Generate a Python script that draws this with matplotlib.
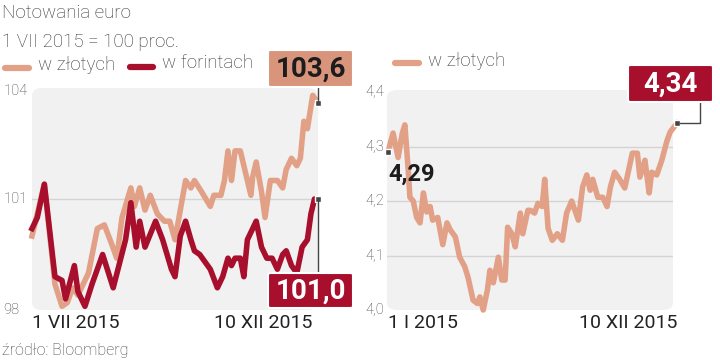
import matplotlib.pyplot as plt
from matplotlib.patches import FancyBboxPatch
from matplotlib.lines import Line2D

plt.rcParams['font.family'] = ['Roboto', 'DejaVu Sans']

# Left chart: days since 1 VII 2015, index (1 VII 2015 = 100)
pln_days = [0, 7, 13, 17, 20, 23, 26, 32, 37, 41, 45, 48, 51, 56, 58, 61, 64, 67, 71, 75,
            78, 81, 87, 90, 92, 96, 101, 103, 107, 109, 111, 113, 115, 118, 121, 124, 125,
            127, 130, 132, 135, 139, 142, 144, 147, 150, 152, 154, 156, 158, 159, 162]
pln_index = [100.0, 101.4, 98.7, 98.1, 98.2, 98.6, 98.4, 99.0, 100.2, 100.3, 99.8, 99.4,
             100.5, 101.3, 100.8, 101.3, 100.7, 101.1, 100.6, 100.4, 100.4, 99.9, 101.5,
             101.3, 101.5, 101.2, 100.8, 101.1, 101.1, 101.5, 102.3, 101.5, 102.3, 102.3,
             101.7, 101.1, 101.6, 102.0, 101.2, 100.5, 101.5, 101.5, 101.3, 101.8, 102.1,
             101.9, 102.1, 103.1, 102.9, 103.5, 103.8, 103.6]
huf_days = [0, 3, 7, 13, 17, 19, 24, 26, 30, 34, 40, 46, 53, 56, 59, 61, 64, 70, 74, 79,
            81, 84, 87, 90, 92, 95, 98, 101, 105, 108, 111, 113, 115, 118, 120, 122, 125,
            127, 130, 133, 136, 139, 142, 144, 147, 150, 153, 156, 158, 160, 162]
huf_index = [100.2, 100.5, 101.4, 98.9, 98.8, 98.3, 99.2, 98.5, 98.1, 98.7, 99.5, 98.6,
             99.9, 100.9, 99.7, 100.4, 99.7, 100.4, 99.9, 99.1, 98.9, 100.0, 100.4, 99.9,
             99.6, 99.5, 99.3, 99.1, 98.6, 98.9, 99.4, 99.2, 99.4, 99.4, 98.9, 99.9, 100.2,
             100.4, 99.7, 99.4, 99.4, 99.1, 99.5, 99.6, 99.2, 99.0, 99.7, 99.9, 100.6,
             101.0, 101.0]

# Right chart: days since 1 I 2015, EUR/PLN
rate_days = [0, 6, 12, 17, 20, 24, 26, 30, 34, 38, 42, 46, 50, 53, 59, 65, 70, 74, 80, 85,
             91, 95, 101, 106, 109, 113, 118, 121, 125, 131, 135, 139, 142, 147, 151, 157,
             160, 166, 169, 174, 178, 183, 186, 190, 195, 201, 207, 212, 218, 226, 231, 236,
             240, 243, 249, 255, 260, 264, 269, 275, 281, 290, 296, 299, 305, 310, 313, 319,
             325, 331, 335, 343]
rate_pln = [4.29, 4.325, 4.28, 4.325, 4.34, 4.257, 4.207, 4.20, 4.17, 4.16, 4.215, 4.18,
            4.19, 4.165, 4.17, 4.12, 4.16, 4.147, 4.134, 4.097, 4.08, 4.06, 4.018, 4.012,
            4.024, 4.00, 4.037, 4.073, 4.05, 4.097, 4.055, 4.055, 4.152, 4.14, 4.116, 4.178,
            4.14, 4.183, 4.183, 4.178, 4.196, 4.19, 4.24, 4.15, 4.128, 4.14, 4.128, 4.178,
            4.20, 4.165, 4.226, 4.248, 4.22, 4.24, 4.207, 4.207, 4.19, 4.226, 4.253, 4.24,
            4.224, 4.288, 4.288, 4.244, 4.275, 4.215, 4.253, 4.248, 4.275, 4.31, 4.327, 4.343]

left_ticks = [98, 101, 104]
right_ticks = [4.0, 4.1, 4.2, 4.3, 4.4]

LIGHT = '#e2a187'
DARK = '#a80f2c'
BOX_LIGHT = '#d9957c'
BG = '#f1f1f1'
GRID = '#d4d4d4'
LW = 4.0

W, H = 720, 360
fig = plt.figure(figsize=(7.2, 3.6), dpi=100)


def fx(x):
    return x / W


def fy(y):
    return 1 - y / H


def make_axes(x0, y0, x1, y1):
    ax = fig.add_axes([fx(x0), fy(y1), (x1 - x0) / W, (y1 - y0) / H])
    ax.set_facecolor('none')
    for s in ax.spines.values():
        s.set_visible(False)
    ax.set_xticks([])
    ax.set_yticks([])
    ax.add_patch(FancyBboxPatch((0, 0), 1, 1, boxstyle='round,pad=0,rounding_size=0.035',
                                transform=ax.transAxes, fc=BG, ec='none', zorder=0))
    return ax


def to_px(ax, x, y):
    dx, dy = ax.transData.transform((x, y))
    return dx, H - dy


def value_box(x0, y0, x1, y1, text, fc, tc):
    fig.patches.append(FancyBboxPatch((fx(x0), fy(y1)), (x1 - x0) / W, (y1 - y0) / H,
                                      boxstyle='round,pad=0,rounding_size=0.004',
                                      transform=fig.transFigure, fc=fc, ec='white',
                                      lw=1.5, zorder=10))
    fig.text(fx((x0 + x1) / 2), fy((y0 + y1) / 2 + 1), text, ha='center', va='center',
             fontsize=20, fontweight='bold', color=tc, zorder=11)


def connector(xs, ys):
    fig.lines.append(Line2D([fx(v) for v in xs], [fy(v) for v in ys],
                            transform=fig.transFigure, color='#444444', lw=1, zorder=9))


# ---------- left chart ----------
ax1 = make_axes(32, 88, 318, 310)
ax1.set_xlim(0, 162)
ax1.set_ylim(98, 104)
ax1.axhline(101, color=GRID, lw=1, zorder=1)
ax1.plot(pln_days, pln_index, color=LIGHT, lw=LW, zorder=3, clip_on=False,
         solid_joinstyle='round')
ax1.plot(huf_days, huf_index, color=DARK, lw=LW, zorder=4, clip_on=False,
         solid_joinstyle='round')
for v in (pln_index[-1], huf_index[-1]):
    ax1.plot(pln_days[-1], v, marker='s', ms=4, mfc='#444444', mec='white', mew=1,
             zorder=12, clip_on=False)

ytr = ax1.get_yaxis_transform()
for t in left_ticks:
    ax1.text(-0.101, t - 0.08 if t == 104 else t, str(t), transform=ytr, ha='left',
             va='center', fontsize=10.5, color='#444444', fontweight='light')
xtr = ax1.get_xaxis_transform()
ax1.text(0, -0.06, '1 VII 2015', transform=xtr, ha='left', va='center', fontsize=14,
         color='#222222')
ax1.text(159, -0.06, '10 XII 2015', transform=xtr, ha='right', va='center', fontsize=14,
         color='#222222')

px1, py1 = to_px(ax1, pln_days[-1], pln_index[-1])
value_box(268, 50, 353, 87, f'{pln_index[-1]:.1f}'.replace('.', ','), BOX_LIGHT, '#1c1c1c')
connector([px1, px1], [87, py1])
px2, py2 = to_px(ax1, huf_days[-1], huf_index[-1])
value_box(268, 273, 353, 308, f'{huf_index[-1]:.1f}'.replace('.', ','), DARK, 'white')
connector([px2, px2], [py2, 273])

# ---------- right chart ----------
ax2 = make_axes(387, 90, 673, 310)
ax2.set_xlim(-1.2, 338.3)
ax2.set_ylim(4.0, 4.404)
for t in right_ticks[1:4]:
    ax2.axhline(t, color=GRID, lw=1, zorder=1)
ax2.plot(rate_days, rate_pln, color=LIGHT, lw=LW, zorder=3, clip_on=False,
         solid_joinstyle='round')
ax2.plot([rate_days[0], rate_days[-1]], [rate_pln[0], rate_pln[-1]], ls='none', marker='s',
         ms=4, mfc='#444444', mec='white', mew=1, zorder=12, clip_on=False)

ytr2 = ax2.get_yaxis_transform()
for t in right_ticks:
    ax2.text(-0.077, t, f'{t:.1f}'.replace('.', ','), transform=ytr2, ha='left',
             va='center', fontsize=10.5, color='#444444', fontweight='light')
xtr2 = ax2.get_xaxis_transform()
ax2.text(0, -0.06, '1 I 2015', transform=xtr2, ha='left', va='center', fontsize=14,
         color='#222222')
ax2.text(343, -0.06, '10 XII 2015', transform=xtr2, ha='right', va='center', fontsize=14,
         color='#222222')

ax2.text(rate_days[0], rate_pln[0] - 0.04, f'{rate_pln[0]:.2f}'.replace('.', ','),
         ha='left', va='center', fontsize=17, fontweight='bold', color='#1c1c1c', zorder=12)

qx, qy = to_px(ax2, rate_days[-1], rate_pln[-1])
value_box(628, 65, 713, 102, f'{rate_pln[-1]:.2f}'.replace('.', ','), DARK, 'white')
connector([qx + 3, 700, 700], [qy, qy, 102])

# ---------- titles and legends ----------
fig.text(fx(2), fy(13), 'Notowania euro', ha='left', va='center', fontsize=13.5,
         color='#333333', fontweight='light')
fig.text(fx(2), fy(42), '1 VII 2015 = 100 proc.', ha='left', va='center', fontsize=13.5,
         color='#333333', fontweight='light')

legend_kw = dict(transform=fig.transFigure, lw=4.5, solid_capstyle='round')
fig.lines.append(Line2D([fx(5), fx(29)], [fy(68), fy(68)], color=LIGHT, **legend_kw))
fig.text(fx(38), fy(65), 'w złotych', ha='left', va='center', fontsize=13.5, color='#333333',
         fontweight='light')
fig.lines.append(Line2D([fx(130), fx(153)], [fy(67), fy(67)], color=DARK, **legend_kw))
fig.text(fx(162), fy(63), 'w forintach', ha='left', va='center', fontsize=13.5,
         color='#333333', fontweight='light')
fig.lines.append(Line2D([fx(395), fx(419)], [fy(63), fy(63)], color=LIGHT, **legend_kw))
fig.text(fx(428), fy(61), 'w złotych', ha='left', va='center', fontsize=13.5, color='#333333',
         fontweight='light')

fig.text(fx(2), fy(351), 'źródło: Bloomberg', ha='left', va='center', fontsize=11.5,
         color='#444444', fontweight='light')

fig.savefig('out.png', dpi=100)
